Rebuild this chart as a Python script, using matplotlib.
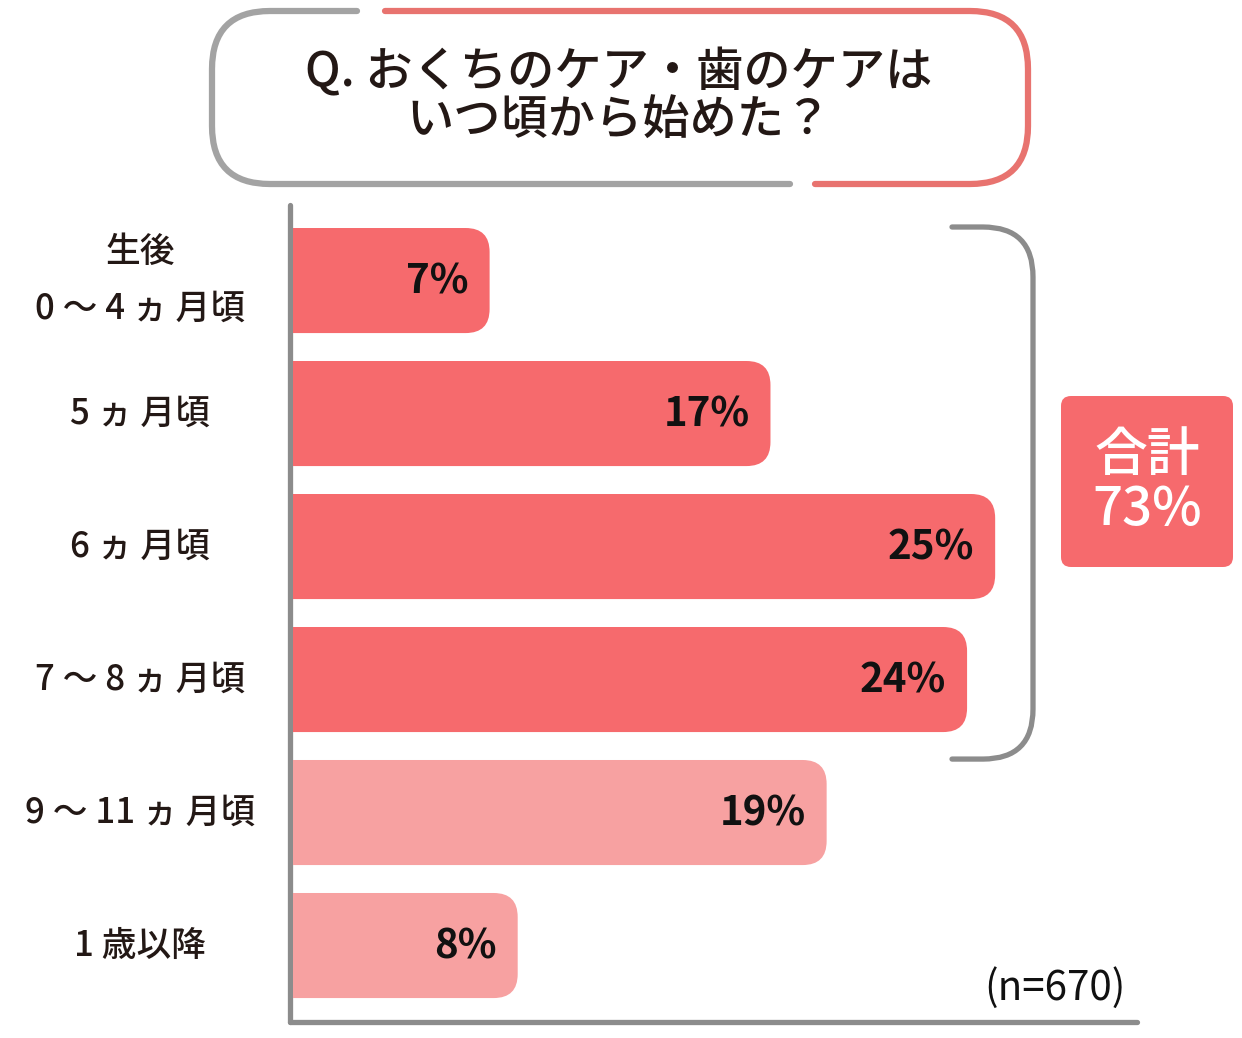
import matplotlib
matplotlib.use("Agg")
import matplotlib.pyplot as plt
from matplotlib.path import Path
from matplotlib.patches import PathPatch, FancyBboxPatch

plt.rcParams['font.family'] = ['Noto Sans CJK JP', 'DejaVu Sans']

# data
categories = ["生後\n0 〜 4 ヵ 月頃", "5 ヵ 月頃", "6 ヵ 月頃", "7 〜 8 ヵ 月頃", "9 〜 11 ヵ 月頃", "1 歳以降"]
values = [7, 17, 25, 24, 19, 8]
highlight = [True, True, True, True, False, False]
n_total = 670
title_lines = ["Q. おくちのケア・歯のケアは", "いつ頃から始めた？"]

W, H = 1242, 1038
DARK = "#F66A6D"
LIGHT = "#F7A1A1"
GRAY = "#8C8C8C"

fig = plt.figure(figsize=(W / 100, H / 100), dpi=100)

# bar axes (scale only, spines drawn here)
ax = fig.add_axes([290 / W, 1 - 1022 / H, (1137 - 290) / W, (1022 - 205) / H])
ax.set_xlim(-0.107, 30.05)
ax.set_ylim(5.575, -0.568)
ax.set_xticks([])
ax.set_yticks([])
for s in ["top", "right"]:
    ax.spines[s].set_visible(False)
for s in ["left", "bottom"]:
    ax.spines[s].set_color(GRAY)
    ax.spines[s].set_linewidth(3.8)
    ax.spines[s].set_capstyle("round")
ax.patch.set_alpha(0)

# overlay in pixel coords
ov = fig.add_axes([0, 0, 1, 1])
ov.set_xlim(0, W)
ov.set_ylim(H, 0)
ov.axis("off")
ov.patch.set_alpha(0)


def to_px(x, y):
    d = ax.transData.transform((x, y))
    return ov.transData.inverted().transform(d)


def right_round_bar(x0, x1, yt, yb, r, color):
    verts = [(x0, yt), (x1 - r, yt), (x1, yt), (x1, yt + r), (x1, yb - r),
             (x1, yb), (x1 - r, yb), (x0, yb), (x0, yt)]
    codes = [Path.MOVETO, Path.LINETO, Path.CURVE3, Path.CURVE3, Path.LINETO,
             Path.CURVE3, Path.CURVE3, Path.LINETO, Path.CLOSEPOLY]
    ov.add_patch(PathPatch(Path(verts, codes), facecolor=color, edgecolor="none", zorder=2))


bar_h = 0.79
tops, bottoms = [], []
for i, (cat, v, hl) in enumerate(zip(categories, values, highlight)):
    x0, yt = to_px(0, i - bar_h / 2)
    x1, yb = to_px(v, i + bar_h / 2)
    tops.append(yt)
    bottoms.append(yb)
    right_round_bar(x0, x1, yt, yb, 24, DARK if hl else LIGHT)
    ov.text(x1 - 21, (yt + yb) / 2 + 1, f"{v}%", ha="right", va="center",
            fontsize=29, fontweight="bold", color="#111111", zorder=3)
    ov.text(140, (yt + yb) / 2, cat, ha="center", va="center", fontsize=25,
            fontweight="medium", color="#231815", linespacing=1.75)

# bracket around highlighted bars
hl_idx = [i for i, h in enumerate(highlight) if h]
bt = tops[hl_idx[0]] - 1
bb = bottoms[hl_idx[-1]] + 27
bx0, bx1, br = 952, 1033, 50
verts = [(bx0, bt), (bx1 - br, bt), (bx1, bt), (bx1, bt + br), (bx1, bb - br),
         (bx1, bb), (bx1 - br, bb), (bx0, bb)]
codes = [Path.MOVETO, Path.LINETO, Path.CURVE3, Path.CURVE3, Path.LINETO,
         Path.CURVE3, Path.CURVE3, Path.LINETO]
ov.add_patch(PathPatch(Path(verts, codes), facecolor="none", edgecolor=GRAY,
                       linewidth=3.8, capstyle="round"))

# total box
total = sum(v for v, h in zip(values, highlight) if h)
ov.add_patch(FancyBboxPatch((1061 + 10, 396 + 10), 172 - 20, 171 - 20,
                            boxstyle="round,pad=10", facecolor=DARK, edgecolor="none"))
ov.text(1147, 456, "合計", ha="center", va="center", fontsize=38,
        fontweight="medium", color="white")
ov.text(1147, 510, f"{total}%", ha="center", va="center", fontsize=38,
        fontweight="medium", color="white")

# n label
ov.text(1055, 988, f"(n={n_total})", ha="center", va="center", fontsize=29, color="#111111")

# title frame
L, R, T, B, r = 212, 1028, 11, 184, 58
gray_v = [(357, T), (L + r, T), (L, T), (L, T + r), (L, B - r), (L, B), (L + r, B), (790, B)]
red_v = [(385, T), (R - r, T), (R, T), (R, T + r), (R, B - r), (R, B), (R - r, B), (815, B)]
fcodes = [Path.MOVETO, Path.LINETO, Path.CURVE3, Path.CURVE3, Path.LINETO,
          Path.CURVE3, Path.CURVE3, Path.LINETO]
ov.add_patch(PathPatch(Path(gray_v, fcodes), facecolor="none", edgecolor="#A3A3A3",
                       linewidth=4.5, capstyle="round"))
ov.add_patch(PathPatch(Path(red_v, fcodes), facecolor="none", edgecolor="#E8736F",
                       linewidth=4.5, capstyle="round"))
ov.text(619, 73, title_lines[0], ha="center", va="center", fontsize=34,
        fontweight="medium", color="#231815")
ov.text(619, 120, title_lines[1], ha="center", va="center", fontsize=34,
        fontweight="medium", color="#231815")

fig.savefig("out.png", dpi=100)
